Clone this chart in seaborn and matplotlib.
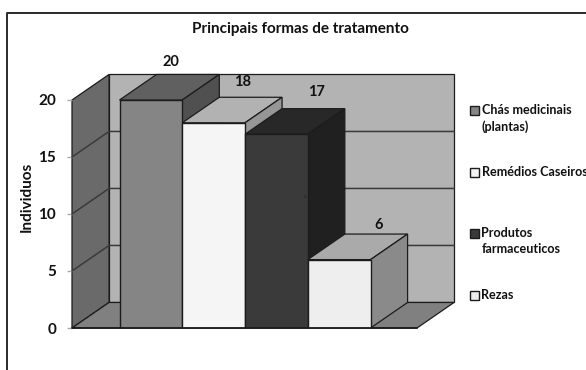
import matplotlib
matplotlib.use("Agg")
import matplotlib.pyplot as plt
from matplotlib.lines import Line2D
from matplotlib.patches import Polygon, Rectangle
import seaborn as sns

# Survey data
categories = ["Chás medicinais\n(plantas)", "Remédios Caseiros",
              "Produtos\nfarmaceuticos", "Rezas"]
values = [20, 18, 17, 6]
y_ticks = [0, 5, 10, 15, 20]

# Shades of each bar's faces
front_colors = ["#858585", "#f5f5f5", "#3a3a3a", "#eeeeee"]
top_colors = ["#606060", "#b2b2b2", "#282828", "#aaaaaa"]
side_colors = ["#505050", "#969696", "#202020", "#8a8a8a"]

# Value label offsets from the top centre of each front face, in pixels
label_offsets = [(20, 38), (29, 40.5), (40, 42), (39, 34.5)]

W, H = 586, 370
DARK = "#1c1c1c"
FONT = "Lato"

sns.set_theme(style="white")
plt.rcParams["font.family"] = [FONT, "DejaVu Sans"]
plt.rcParams["font.weight"] = "bold"

fig = plt.figure(figsize=(W / 100, H / 100), dpi=100, facecolor="white")
ax = fig.add_axes([72 / W, (H - 328) / H, 345 / W, 228 / H])
ax.patch.set_alpha(0)

sns.barplot(x=categories, y=values, hue=categories, palette=front_colors,
            width=1, legend=False, edgecolor=DARK, linewidth=1.0,
            saturation=1, ax=ax)

x0, x1 = -1.257, 4.24
ax.set_xlim(x0, x1)
ax.set_ylim(0, 20)
# Oblique projection of the depth axis, in data units
dx, dy = 0.59, 2.24
top_value = y_ticks[-1]


def face(points, color, z):
    ax.add_patch(Polygon(points, closed=True, facecolor=color, edgecolor=DARK,
                         linewidth=0.9, clip_on=False, zorder=z))


# Walls and floor
face([(x0, 0), (x0 + dx, dy), (x0 + dx, top_value + dy), (x0, top_value)], "#6a6a6a", 0.5)
face([(x0 + dx, dy), (x1 + dx, dy), (x1 + dx, top_value + dy), (x0 + dx, top_value + dy)],
     "#b3b3b3", 0.4)
face([(x0, 0), (x1, 0), (x1 + dx, dy), (x0 + dx, dy)], "#808080", 0.6)

# Gridlines across the side and back walls
for tick in y_ticks[1:-1]:
    ax.plot([x0, x0 + dx, x1 + dx], [tick, tick + dy, tick + dy], color="#3a3a3a",
            lw=1.1, clip_on=False, zorder=0.8)

# Top and side faces of the bars, then the seaborn front faces above them
for i, (patch, value) in enumerate(zip(ax.patches, values)):
    left, right = i - 0.5, i + 0.5
    face([(left, value), (right, value), (right + dx, value + dy), (left + dx, value + dy)],
         top_colors[i], 3 + i)
    face([(right, 0), (right + dx, dy), (right + dx, value + dy), (right, value)],
         side_colors[i], 3 + i)
    patch.set_zorder(3.5 + i)
    dx_px, dy_px = label_offsets[i]
    ax.annotate(str(value), xy=(i, value), xytext=(dx_px * 0.72, dy_px * 0.72),
                textcoords="offset points", ha="center", va="center",
                fontsize=10.5, fontweight="bold", color="#111111", zorder=10,
                annotation_clip=False)

ax.plot([x0, x1], [0, 0], color=DARK, lw=1.3, clip_on=False, zorder=9)

sns.despine(ax=ax, left=True, bottom=True, top=True, right=True)
ax.grid(False)
ax.set_xticks([])
ax.set_yticks(y_ticks)
ax.tick_params(axis="y", left=True, length=3.5, width=1, color="#aaaaaa", pad=8,
               labelsize=11, labelcolor="#111111")
ax.set_xlabel("")
ax.set_ylabel("")


def px(x, y):
    return x / W, 1 - y / H


fig.text(*px(26.5, 197), "Individuos", rotation=90, ha="center", va="center",
         fontsize=11, fontweight="bold", color="#111111")
fig.text(*px(300.5, 29), "Principais formas de tratamento", ha="center", va="center",
         fontsize=11, fontweight="bold", color="#111111")
fig.text(*px(305.5, 197), "s", ha="center", va="center", fontsize=4,
         fontweight="normal", color="#222222", zorder=20)

# Legend entries, with the swatch beside the first line of each label
entry_tops = [106, 168, 229, 291]
for color, label, top in zip(front_colors, categories, entry_tops):
    fx, fy = px(470, top + 8.5)
    fig.add_artist(Rectangle((fx, fy), 8.5 / W, 8.5 / H, transform=fig.transFigure,
                             facecolor=color, edgecolor=DARK, linewidth=1))
    fig.text(*px(481.5, top - 2), label, ha="left", va="top", fontsize=9.1,
             fontweight="bold", color="#111111", linespacing=1.4)

# Chart frame along the left and top edges
fig.add_artist(Line2D([7 / W, 7 / W, 1], [0, 1 - 13 / H, 1 - 13 / H],
                      transform=fig.transFigure, color="#2a2a2a", lw=1.4))

fig.savefig("out.png", dpi=100)
